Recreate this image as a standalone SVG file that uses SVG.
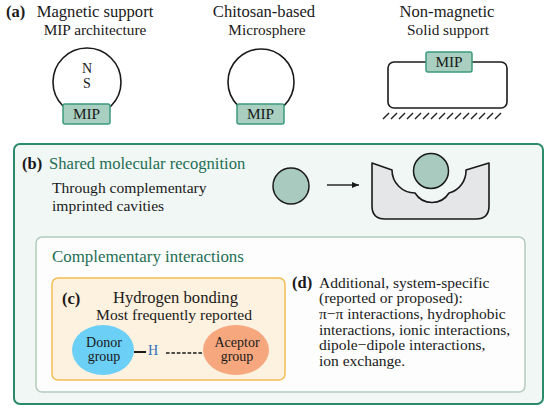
<svg xmlns="http://www.w3.org/2000/svg" width="550" height="411" viewBox="0 0 550 411" font-family="Liberation Serif">
<defs>
<style>
text{fill:#1a1a1a}
.t{font-size:16.6px}
.s{font-size:15.3px}
.b{font-weight:bold;font-size:16.5px}
.g{fill:#1e6e55}
.mip{fill:#a9cfc0;stroke:#3b9a7e;stroke-width:1.5}
.ring{fill:none;stroke:#1a1a1a;stroke-width:1.6}
.m{text-anchor:middle}
.e{font-size:14px}
.d{font-size:15.5px}
</style>
<marker id="ah" markerWidth="8" markerHeight="8" refX="7" refY="4" orient="auto" markerUnits="userSpaceOnUse">
<path d="M0,1 L7,4 L0,7 Z" fill="#1a1a1a"/>
</marker>
</defs>
<rect width="550" height="411" fill="#ffffff"/>

<g id="panel-a">
<text x="6" y="17" class="b">(a)</text>
<g id="magnetic">
<text x="95" y="17" class="t m">Magnetic support</text>
<text x="95" y="35" class="s m">MIP architecture</text>
<circle cx="87" cy="82" r="34" class="ring"/>
<text x="87" y="72.5" class="e m">N</text>
<text x="87" y="88" class="e m">S</text>
<rect x="63" y="104" width="47" height="20" rx="2" class="mip"/>
<text x="86.5" y="119" class="s m">MIP</text>
</g>
<g id="chitosan">
<text x="264" y="17" class="t m">Chitosan-based</text>
<text x="267" y="35" class="s m">Microsphere</text>
<circle cx="261" cy="82" r="33" class="ring"/>
<rect x="237" y="104" width="47" height="20" rx="2" class="mip"/>
<text x="260.5" y="119" class="s m">MIP</text>
</g>
<g id="nonmagnetic">
<text x="447" y="17" class="t m">Non-magnetic</text>
<text x="448" y="35" class="s m">Solid support</text>
<rect x="388" y="62" width="119" height="46" rx="6" class="ring"/>
<rect x="426" y="52" width="46" height="20" rx="2" class="mip"/>
<text x="449" y="67" class="s m">MIP</text>
<path d="M383,119 l6,-6 M391,119 l6,-6 M399,119 l6,-6 M407,119 l6,-6 M415,119 l6,-6 M423,119 l6,-6 M431,119 l6,-6 M439,119 l6,-6 M447,119 l6,-6 M455,119 l6,-6 M463,119 l6,-6 M471,119 l6,-6 M479,119 l6,-6 M487,119 l6,-6 M495,119 l6,-6" stroke="#1a1a1a" stroke-width="1.4" fill="none"/>
</g>
</g>

<g id="panel-b">
<rect x="14" y="144" width="529" height="260" rx="6" fill="#f1f7f4" stroke="#2b8a6c" stroke-width="2"/>
<text x="22" y="169" class="b">(b)</text>
<text x="49" y="169" class="t g">Shared molecular recognition</text>
<text x="52" y="193" class="s" style="font-size:15.6px">Through complementary</text>
<text x="52" y="211" class="s" style="font-size:15.6px">imprinted cavities</text>
<g id="template">
<circle cx="291" cy="186" r="18" fill="#a9cbbf" stroke="#1a1a1a" stroke-width="1.5"/>
</g>
<g id="cavity">
<path d="M372,163 L392,170 A23,23 0 0 0 415,193 A20,20 0 0 0 449,193 A23,23 0 0 0 466,170 L489,163 L489,206 Q489,219 476,219 L385,219 Q372,219 372,206 Z" fill="#e5e6e8" stroke="#1a1a1a" stroke-width="1.6" stroke-linejoin="round"/>
<circle cx="431" cy="171" r="17.5" fill="#a9cbbf" stroke="#1a1a1a" stroke-width="1.5"/>
</g>
</g>

<g id="connectors">
<line x1="327" y1="185" x2="359" y2="185" stroke="#1a1a1a" stroke-width="1.4" marker-end="url(#ah)"/>
</g>

<g id="complementary">
<rect x="36" y="237" width="489" height="155" rx="6" fill="#fcfdfc" stroke="#b3cbbf" stroke-width="1.5"/>
<text x="52" y="262" class="t g" style="font-size:16.9px">Complementary interactions</text>
</g>

<g id="panel-c">
<rect x="52" y="278" width="233" height="102" rx="6" fill="#fdf1df" stroke="#f2bd55" stroke-width="1.5"/>
<text x="62" y="304" class="b">(c)</text>
<text x="175.5" y="303" class="t m">Hydrogen bonding</text>
<text x="174" y="320" class="s m" style="font-size:15.6px">Most frequently reported</text>
<g id="donor">
<ellipse cx="103" cy="350" rx="31" ry="25" fill="#6ccff6"/>
<text x="104" y="347" class="e m">Donor</text>
<text x="104" y="361" class="e m">group</text>
</g>
<g id="acceptor">
<ellipse cx="236" cy="350" rx="33" ry="25" fill="#f6a77e"/>
<text x="237" y="347" class="e m">Aceptor</text>
<text x="237" y="361" class="e m">group</text>
</g>
<line x1="134" y1="352" x2="146" y2="352" stroke="#1a1a1a" stroke-width="2"/>
<text x="148" y="354.5" class="e" style="fill:#2a6fc0">H</text>
<line x1="166" y1="353" x2="203" y2="353" stroke="#1a1a1a" stroke-width="1.6" stroke-dasharray="3.6 1.8"/>
</g>

<g id="panel-d">
<text x="292" y="287.5" class="b">(d)</text>
<text x="319" y="287.5" class="d">Additional, system-specific</text>
<text x="319" y="303.2" class="d">(reported or proposed):</text>
<text x="319" y="318.9" class="d">π−π interactions, hydrophobic</text>
<text x="319" y="334.6" class="d">interactions, ionic interactions,</text>
<text x="319" y="350.3" class="d">dipole−dipole interactions,</text>
<text x="319" y="366" class="d">ion exchange.</text>
</g>
</svg>
